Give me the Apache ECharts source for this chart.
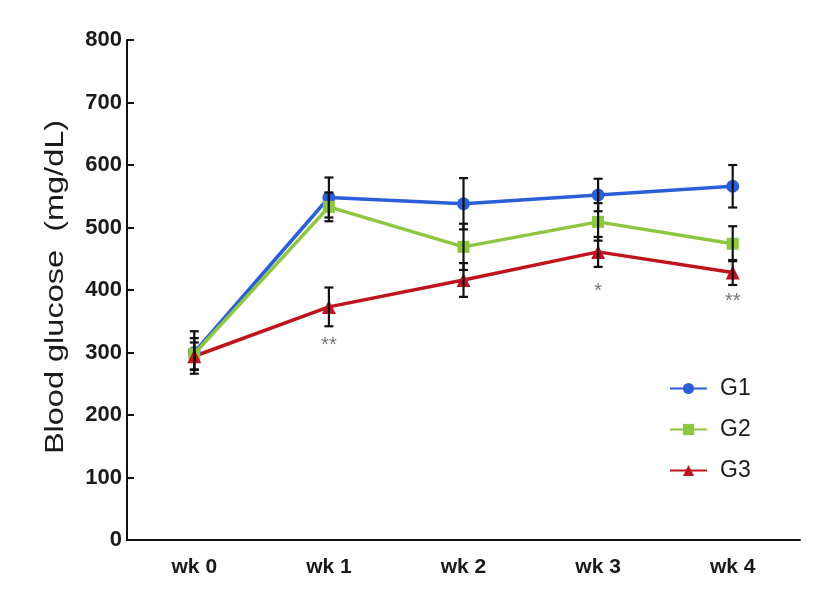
<!DOCTYPE html>
<html>
<head>
<meta charset="utf-8">
<script src="https://cdn.jsdelivr.net/npm/echarts@6/dist/echarts.min.js"></script>
<style>html,body{margin:0;padding:0;background:#fff}#c{width:827px;height:594px}</style>
</head>
<body>
<div id="c"></div>
<script>
const categories = ['wk 0', 'wk 1', 'wk 2', 'wk 3', 'wk 4'];
const yTicks = [0, 100, 200, 300, 400, 500, 600, 700, 800];
const g1 = [300, 548, 538, 552, 566];
const g1Err = [34, 32, 41, 26, 34];
const g2 = [298, 533, 469, 509, 474];
const g2Err = [25, 23, 37, 30, 28];
const g3 = [294, 373, 416, 461, 428];
const g3Err = [22, 31, 27, 24, 20];
const annoCat = ['wk 1', 'wk 3', 'wk 4'];
const annoVal = [312, 397, 381];
const annoText = ['**', '*', '**'];
const yTitle = 'Blood glucose  (mg/dL)';

const FONT = '"Liberation Sans", Arial, sans-serif';
const colors = { G1: '#2b5fd9', G2: '#8dc63f', G3: '#c0141c' };

function errData(vals, errs) {
  return vals.map((v, i) => [i, v - errs[i], v + errs[i]]);
}
function errRender(params, api) {
  const x = api.value(0);
  const lo = api.coord([x, api.value(1)]);
  const hi = api.coord([x, api.value(2)]);
  const cap = 4.5;
  const style = { stroke: '#111', lineWidth: 2.2 };
  return {
    type: 'group',
    children: [
      { type: 'line', shape: { x1: lo[0], y1: lo[1], x2: hi[0], y2: hi[1] }, style },
      { type: 'line', shape: { x1: lo[0] - cap, y1: lo[1], x2: lo[0] + cap, y2: lo[1] }, style },
      { type: 'line', shape: { x1: hi[0] - cap, y1: hi[1], x2: hi[0] + cap, y2: hi[1] }, style }
    ]
  };
}
function lineSeries(name, data, symbol, size) {
  return {
    name, type: 'line', data, symbol, symbolSize: size,
    itemStyle: { color: colors[name] },
    lineStyle: { color: colors[name], width: 3.5 },
    z: 3, animation: false
  };
}
function errSeries(vals, errs) {
  return {
    type: 'custom', renderItem: errRender, data: errData(vals, errs),
    encode: { x: 0, y: [1, 2] }, z: 4, silent: true, animation: false
  };
}

const chart = echarts.init(document.getElementById('c'));
chart.setOption({
  backgroundColor: '#fff',
  animation: false,
  grid: { left: 127, right: 27, top: 40, bottom: 54, containLabel: false },
  graphic: [{
    type: 'text', x: 56, y: 287, rotation: Math.PI / 2, scaleX: 1.3,
    style: { text: yTitle, font: '25px "Liberation Sans", Arial, sans-serif', fill: '#1a1a1a', textAlign: 'center', textVerticalAlign: 'middle' }
  }],
  legend: {
    orient: 'vertical', left: 664, top: 372, itemGap: 18,
    itemWidth: 37, itemHeight: 14,
    formatter: n => '{t|' + n + '}',
    textStyle: { rich: { t: { fontFamily: FONT, fontSize: 23, color: '#1a1a1a', padding: [0, 0, 0, 8] } } },
    data: ['G1', 'G2', 'G3']
  },
  xAxis: {
    type: 'category', data: categories, boundaryGap: true,
    axisLine: { lineStyle: { color: '#111', width: 2 } },
    axisTick: { alignWithLabel: true, length: 7, inside: true, lineStyle: { color: '#111', width: 2 } },
    axisLabel: { fontFamily: FONT, fontSize: 21, fontWeight: 'bold', color: '#1a1a1a', margin: 17 },
    splitLine: { show: false }
  },
  yAxis: {
    type: 'value', min: yTicks[0], max: yTicks[yTicks.length - 1], interval: 100,
    axisLine: { show: true, lineStyle: { color: '#111', width: 2 } },
    axisTick: { show: true, inside: true, length: 7, lineStyle: { color: '#111', width: 2 } },
    axisLabel: { fontFamily: FONT, fontSize: 22, fontWeight: 'bold', color: '#1a1a1a', margin: 5 },
    splitLine: { show: false }
  },
  series: [
    lineSeries('G1', g1, 'circle', 13),
    lineSeries('G2', g2, 'rect', 12),
    lineSeries('G3', g3, 'triangle', 14),
    errSeries(g1, g1Err),
    errSeries(g2, g2Err),
    errSeries(g3, g3Err),
    {
      type: 'scatter', symbolSize: 0, silent: true, z: 5, animation: false,
      data: annoCat.map((c, i) => ({ value: [c, annoVal[i]], name: annoText[i] })),
      label: { show: true, position: 'inside', formatter: p => p.name, fontFamily: FONT, fontSize: 20, color: '#555' }
    }
  ]
});
</script>
</body>
</html>
